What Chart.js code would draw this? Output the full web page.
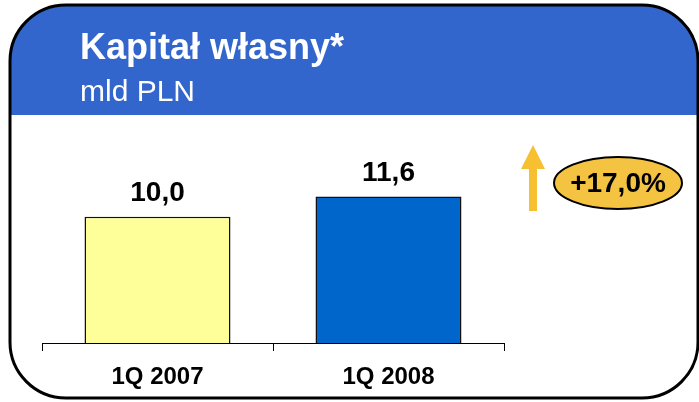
<!DOCTYPE html>
<html>
<head>
<meta charset="utf-8">
<script src="https://cdn.jsdelivr.net/npm/chart.js@4"></script>
<style>
  html, body { margin: 0; padding: 0; background: #fff; }
  canvas { display: block; }
</style>
</head>
<body>
<canvas id="chart" width="699" height="402"></canvas>
<script>
// chart values
const categories = ["1Q 2007", "1Q 2008"]
const equity = [10.0, 11.6]
const barColors = ["#FFFF99", "#0066CC"]
const valueLabels = ["10,0", "11,6"]
const title = "Kapitał własny*"
const unit = "mld PLN"
const change = "+17,0%"

const FONT = "'Liberation Sans', Arial, sans-serif"

function roundRect(ctx, x, y, w, h, r) {
  ctx.beginPath()
  ctx.moveTo(x + r, y)
  ctx.lineTo(x + w - r, y)
  ctx.arcTo(x + w, y, x + w, y + r, r)
  ctx.lineTo(x + w, y + h - r)
  ctx.arcTo(x + w, y + h, x + w - r, y + h, r)
  ctx.lineTo(x + r, y + h)
  ctx.arcTo(x, y + h, x, y + h - r, r)
  ctx.lineTo(x, y + r)
  ctx.arcTo(x, y, x + r, y, r)
  ctx.closePath()
}

// frame, blue header, growth arrow and badge
const decor = {
  id: "decor",
  beforeDraw(chart) {
    const ctx = chart.ctx
    ctx.save()
    ctx.fillStyle = "#fff"
    ctx.fillRect(0, 0, chart.width, chart.height)

    roundRect(ctx, 10, 5, 688, 393, 56)
    ctx.save()
    ctx.clip()
    ctx.fillStyle = "#3366CC"
    ctx.fillRect(0, 0, chart.width, 115)
    ctx.restore()
    roundRect(ctx, 10, 5, 688, 393, 56)
    ctx.lineWidth = 3
    ctx.strokeStyle = "#000"
    ctx.stroke()

    ctx.fillStyle = "#fff"
    ctx.textAlign = "left"
    ctx.textBaseline = "alphabetic"
    ctx.font = "bold 36px " + FONT
    ctx.fillText(title, 80, 59)
    ctx.font = "30px " + FONT
    ctx.fillText(unit, 80, 101)

    // arrow
    ctx.fillStyle = "#F7C033"
    ctx.fillRect(529, 168, 8, 43)
    ctx.beginPath()
    ctx.moveTo(533, 145)
    ctx.lineTo(545, 169)
    ctx.lineTo(521, 169)
    ctx.closePath()
    ctx.fill()

    // badge
    ctx.beginPath()
    ctx.ellipse(618, 183, 64, 26, 0, 0, Math.PI * 2)
    ctx.fillStyle = "#F5C342"
    ctx.fill()
    ctx.lineWidth = 2
    ctx.strokeStyle = "#000"
    ctx.stroke()
    ctx.fillStyle = "#000"
    ctx.textAlign = "center"
    ctx.font = "bold 28px " + FONT
    ctx.fillText(change, 618, 192)
    ctx.restore()
  },
  afterDatasetsDraw(chart) {
    const ctx = chart.ctx
    const meta = chart.getDatasetMeta(0)
    ctx.save()
    ctx.fillStyle = "#000"
    ctx.textAlign = "center"
    ctx.textBaseline = "alphabetic"
    ctx.font = "bold 28px " + FONT
    meta.data.forEach((bar, i) => {
      ctx.fillText(valueLabels[i], bar.x, bar.y - 16)
    })
    ctx.restore()
  }
}

const chart = new Chart("chart", {
  type: "bar",
  data: {
    labels: categories,
    datasets: [{
      data: equity,
      backgroundColor: barColors,
      borderColor: "#111",
      borderWidth: 1.5,
      barPercentage: 0.632,
      categoryPercentage: 1
    }]
  },
  options: {
    responsive: false,
    animation: false,
    layout: {padding: {left: 42, right: 195, top: 141, bottom: 0}},
    plugins: {
      legend: {display: false},
      tooltip: {enabled: false}
    },
    scales: {
      x: {
        grid: {display: true, drawOnChartArea: false, drawTicks: true, tickLength: 8, color: "#000"},
        border: {display: true, color: "#000", width: 1},
        ticks: {color: "#000", padding: 12, font: {family: FONT, size: 24, weight: "bold"}},
        afterFit: scale => { scale.height = 59 }
      },
      y: {display: false, min: 0, max: 16}
    }
  },
  plugins: [decor]
})
</script>
</body>
</html>
